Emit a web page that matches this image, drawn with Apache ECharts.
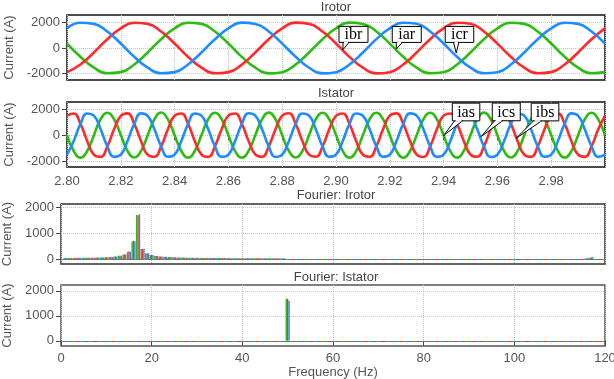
<!DOCTYPE html>
<html><head><meta charset="utf-8">
<script src="https://cdn.jsdelivr.net/npm/echarts@6/dist/echarts.min.js"></script>
<style>html,body{margin:0;padding:0;background:#fff}#c{width:614px;height:379px}</style>
</head><body><div id="c"></div>
<script>
// ---------- DATA ----------
const rotorStart = 2.80, rotorStep = 0.005;      // s
const statorStart = 2.80, statorStep = 0.0025;   // s

// rotor currents (A), read every 5 ms
const iarRotor = [347,-684,-1532,-1970,-1879,-1286,-347,684,1532,1970,1879,1286,
  350,-690,-1530,-1975,-1880,-1280,-345,680,1535,1975,1875,1290,
  345,-684,-1535,-1965,-1885,-1286,-350,684,1530,1970,1880,1285,
  347,-684,-1532,-1970,-1879];
const ibrRotor = [-1879,-1286,-347,684,1532,1970,1879,1286,347,-684,-1532,-1970,
  -1875,-1290,-345,680,1535,1975,1880,1280,350,-690,-1530,-1975,
  -1880,-1285,-350,684,1530,1965,1885,1286,345,-684,-1535,-1970,
  -1879,-1286,-347,684,1532];
const icrRotor = [1532,1970,1879,1286,347,-684,-1532,-1970,-1879,-1286,-347,684,
  1535,1975,1875,1290,345,-680,-1535,-1975,-1880,-1280,-350,690,
  1530,1965,1885,1286,350,-684,-1530,-1970,-1885,-1286,-345,684,
  1532,1970,1879,1286,347];

// stator currents (A), read every 2.5 ms
const iasStator = [0,-1216,-1720,-1216,0,1216,1720,1216,
  10,-1210,-1715,-1220,-5,1220,1730,1210,
  0,-1216,-1725,-1216,5,1216,1715,1216,
  -5,-1220,-1720,-1210,0,1210,1725,1220,
  0,-1216,-1710,-1216,0,1216,1720,1216,
  5,-1210,-1720,-1220,-5,1220,1720,1210,
  0,-1216,-1730,-1216,0,1216,1715,1216,
  -5,-1220,-1720,-1210,5,1210,1725,1220,
  0,-1216,-1715,-1216,0,1216,1720,1216,
  5,-1210,-1720,-1220,0,1220,1720,1210,
  0];
const ibsStator = [1490,1662,860,-445,-1490,-1662,-860,445,
  1480,1670,860,-440,-1500,-1650,-860,450,
  1490,1660,870,-445,-1490,-1670,-850,445,
  1500,1655,860,-450,-1480,-1662,-860,440,
  1490,1680,860,-445,-1490,-1650,-870,445,
  1485,1662,855,-445,-1500,-1662,-860,450,
  1490,1665,860,-440,-1490,-1670,-860,445,
  1495,1662,865,-445,-1485,-1655,-855,445,
  1490,1670,860,-450,-1490,-1662,-860,440,
  1490,1660,860,-445,-1495,-1665,-860,445,
  1490];
const icsStator = [-1490,-445,860,1662,1490,445,-860,-1662,
  -1500,-440,860,1670,1480,445,-865,-1655,
  -1490,-445,855,1660,1490,450,-860,-1662,
  -1485,-445,860,1675,1495,445,-860,-1670,
  -1490,-450,865,1662,1490,440,-855,-1662,
  -1495,-445,860,1655,1485,445,-860,-1660,
  -1490,-440,860,1668,1490,450,-865,-1662,
  -1490,-445,855,1662,1500,445,-860,-1670,
  -1485,-445,860,1660,1490,445,-860,-1655,
  -1490,-450,860,1665,1490,440,-860,-1662,
  -1490];

// Fourier of rotor currents: frequency bins (Hz) and amplitudes (A)
const fRotorBins = [0,1,2,3,4,5,6,7,8,9,10,11,12,13,14,15,16,17,18,19,20,21,22,23,24,25,26,27,28,29,30,31,32,33,34,35,36,37,38,39,40,41,42,43,44,45,46,47,48,49,116,117];
const fRotorA = [10,55,52,55,56,58,60,64,68,74,80,92,108,138,185,285,690,1712,395,228,162,128,108,94,84,76,70,66,62,59,56,54,52,50,49,48,47,46,45,44,43,42,41,40,40,39,38,38,37,36,40,70];
const fRotorB = [20,56,54,55,57,59,61,65,70,75,82,95,110,142,190,300,715,1700,400,232,165,130,110,95,85,78,71,67,63,60,57,55,53,51,50,49,48,47,46,45,44,43,42,41,40,40,39,38,38,37,42,72];
const fRotorC = [12,54,53,56,57,58,62,65,69,76,81,93,112,140,188,292,700,1735,410,235,168,131,109,96,86,77,72,67,63,60,57,55,53,51,50,48,47,46,45,44,43,42,41,41,40,39,38,38,37,36,45,78];
// Fourier of stator currents
const fStatorBins = [50];
const fStatorA = [1690];
const fStatorB = [1670];
const fStatorC = [1590];

const rotorYTicks = [-2000,0,2000];
const statorYTicks = [-2000,0,2000];
const fourierYTicks = [0,1000,2000];

const titles = ['Irotor','Istator','Fourier: Irotor','Fourier: Istator'];
const rotorNotes = [
  {label:'ibr', t:2.9026, v:-130, dx:-4, dy:-23.3, w:29, h:16, t0:0, t1:6},
  {label:'iar', t:2.9224, v:-80, dx:-4, dy:-22.6, w:29, h:16, t0:0, t1:6},
  {label:'icr', t:2.9447, v:-389, dx:-11, dy:-26.6, w:28.5, h:16, t0:-2.7, t1:2.6}
];
const statorNotes = [
  {label:'ias', t:2.9400, v:-30, dx:8.7, dy:-32.4, w:27.5, h:17.7, t0:11, t1:19},
  {label:'ics', t:2.9540, v:-100, dx:11, dy:-33.4, w:28, h:17.7, t0:13.3, t1:21.3},
  {label:'ibs', t:2.9670, v:-233, dx:15, dy:-35, w:27.6, h:17.7, t0:17.3, t1:25.3}
];

// ---------- CHART ----------
const COL = {a:'#2cbd10', b:'#ff2a2a', c:'#1f8cff'};
const FONT = '"Liberation Sans", Arial, sans-serif';
const chart = echarts.init(document.getElementById('c'));

function pairs(start, step, arr){ return arr.map((v,i)=>[+(start+i*step).toFixed(5), v]); }
function zipBins(bins, arr){ return arr.map((v,i)=>[bins[i], v]); }

function mkGrid(left, top, width, height, borderColor){
  return {show:true, left, top, width, height, borderColor, borderWidth:1.5,
    backgroundColor:'transparent', containLabel:false, outerBoundsMode:'none'};
}
const grid = [
  mkGrid(67, 15, 538, 65, '#111'),
  mkGrid(67, 102, 538, 65, '#111'),
  mkGrid(61, 204, 544, 60, '#333'),
  mkGrid(61, 285, 544, 61, '#555')
];

const splitL = {show:true, lineStyle:{color:'#c4c4c4', type:'dotted', width:1}};
function yAx(gi, min, max, ticks, gap){
  return {type:'value', gridIndex:gi, min, max, splitNumber:3,
    name:'Current (A)', nameLocation:'middle', nameGap:gap,
    nameTextStyle:{color:'#555', fontSize:13, fontFamily:FONT},
    axisLine:{show:false},
    axisTick:{show:true, length:5, customValues:ticks, lineStyle:{color:'#444'}},
    axisLabel:{customValues:ticks, formatter:v=>String(v), color:'#555', fontSize:13, fontFamily:FONT, margin:7},
    splitLine:splitL};
}
function xTime(gi, labels){
  return {type:'value', gridIndex:gi, min:2.8, max:3.0, interval:0.02,
    axisLine:{show:false},
    axisTick:{show:labels, length:5, lineStyle:{color:'#444'}},
    axisLabel:{show:labels, formatter:v=>v.toFixed(2), color:'#555', fontSize:13, fontFamily:FONT, margin:8, showMaxLabel:false},
    splitLine:splitL};
}
function xFreq(gi, labels){
  return {type:'value', gridIndex:gi, min:0, max:120, interval:20,
    name: labels ? 'Frequency (Hz)' : '', nameLocation:'middle', nameGap:19,
    nameTextStyle:{color:'#555', fontSize:13, fontFamily:FONT},
    axisLine:{show:false},
    axisTick:{show:labels, length:5, lineStyle:{color:'#444'}},
    axisLabel:{show:labels, formatter:v=>String(v), color:'#555', fontSize:13, fontFamily:FONT, margin:6},
    splitLine:splitL};
}

function lineS(name, xi, start, step, arr, color){
  return {name, type:'line', xAxisIndex:xi, yAxisIndex:xi, data:pairs(start, step, arr),
    showSymbol:false, smooth:true, lineStyle:{color, width:2.6}, itemStyle:{color}};
}
function barS(name, xi, bins, arr, color, k){
  return {name, type:'bar', xAxisIndex:xi, yAxisIndex:xi, data:zipBins(bins, arr),
    barWidth:1.4, barGap:'0%', itemStyle:{color},
    markLine:{silent:true, symbol:'none', label:{show:false}, data:[{yAxis:0}],
      lineStyle:{color, type:[3,6], dashOffset:k*3, width:1.2}}};
}

chart.setOption({
  animation:false,
  grid,
  xAxis:[xTime(0,false), xTime(1,true), xFreq(2,false), xFreq(3,true)],
  yAxis:[yAx(0,-2490,2570,rotorYTicks,43), yAx(1,-2440,2540,statorYTicks,43),
         yAx(2,-180,2130,fourierYTicks,37), yAx(3,-210,2230,fourierYTicks,37)],
  series:[
    lineS('iar',0,rotorStart,rotorStep,iarRotor,COL.a),
    lineS('ibr',0,rotorStart,rotorStep,ibrRotor,COL.b),
    lineS('icr',0,rotorStart,rotorStep,icrRotor,COL.c),
    lineS('ias',1,statorStart,statorStep,iasStator,COL.a),
    lineS('ibs',1,statorStart,statorStep,ibsStator,COL.b),
    lineS('ics',1,statorStart,statorStep,icsStator,COL.c),
    barS('iar',2,fRotorBins,fRotorA,COL.a,0),
    barS('ibr',2,fRotorBins,fRotorB,COL.b,1),
    barS('icr',2,fRotorBins,fRotorC,COL.c,2),
    barS('ias',3,fStatorBins,fStatorA,COL.a,0),
    barS('ibs',3,fStatorBins,fStatorB,COL.b,1),
    barS('ics',3,fStatorBins,fStatorC,COL.c,2)
  ]
});

// titles and callouts
const titleY = [7, 93.5, 195, 277];
const gfx = titles.map((t,i)=>({type:'text', x:336, y:titleY[i], z:100,
  style:{text:t, font:'13px '+FONT, fill:'#444', align:'center', verticalAlign:'middle'}}));
function callout(gi, n){
  const p = chart.convertToPixel({gridIndex:gi}, [n.t, n.v]);
  const bx = p[0]+n.dx, by = p[1]+n.dy, yb = by+n.h;
  return [
    {type:'rect', z:100, shape:{x:bx, y:by, width:n.w, height:n.h}, style:{fill:'#fff', stroke:'#000', lineWidth:1}},
    {type:'polygon', z:101, shape:{points:[[p[0]+n.t0, yb],[p[0]+n.t1, yb],[p[0], p[1]]]}, style:{fill:'#fff', stroke:'#000', lineWidth:1}},
    {type:'line', z:102, shape:{x1:p[0]+n.t0+1, y1:yb, x2:p[0]+n.t1-1, y2:yb}, style:{stroke:'#fff', lineWidth:1.5}},
    {type:'text', z:103, x:bx+n.w/2, y:by+n.h/2+0.5, style:{text:n.label, font:'16px "Liberation Serif", "Times New Roman", serif', fill:'#000', align:'center', verticalAlign:'middle'}}
  ];
}
rotorNotes.forEach(n=>gfx.push(...callout(0,n)));
statorNotes.forEach(n=>gfx.push(...callout(1,n)));
chart.setOption({graphic:gfx});
</script></body></html>
